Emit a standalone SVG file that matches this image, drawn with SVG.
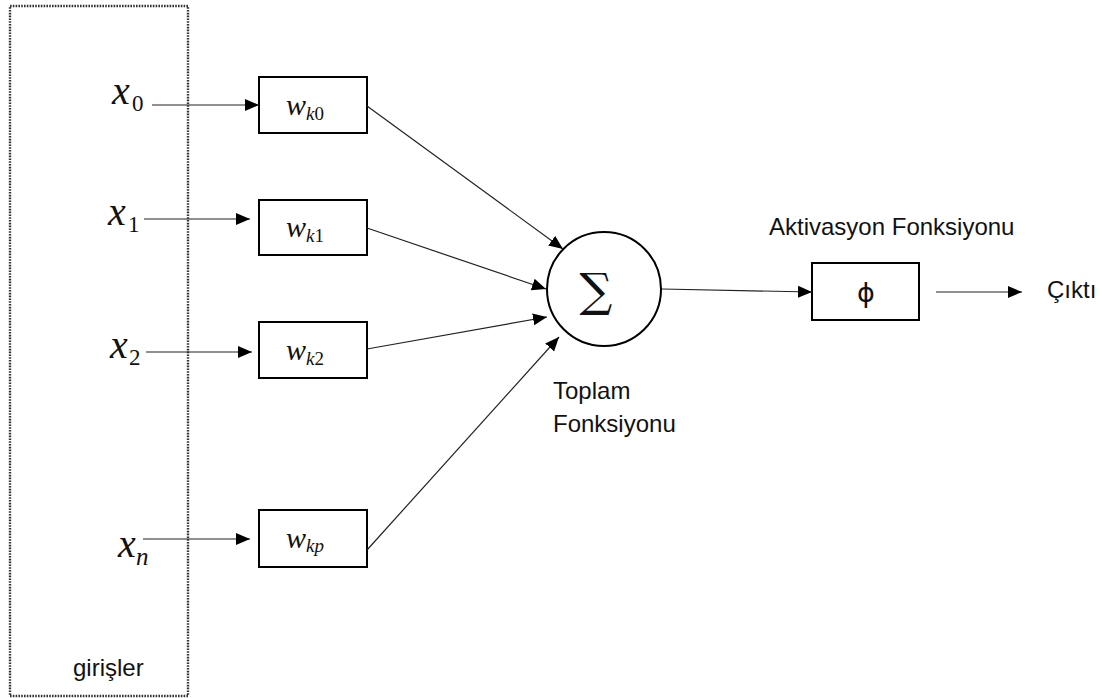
<svg xmlns="http://www.w3.org/2000/svg" width="1101" height="698" viewBox="0 0 1101 698">
  <style>
    .box { fill: #fff; stroke: #000; stroke-width: 2; }
    .edge { stroke: #222; stroke-width: 1.2; fill: none; marker-end: url(#arrow); }
    .lbl { font-family: "Liberation Sans", Arial, sans-serif; font-size: 24px; fill: #111; }
    .math { font-family: "Liberation Serif", "DejaVu Serif", serif; font-style: italic; fill: #111; }
    .up { font-style: normal; }
  </style>
  <defs>
    <marker id="arrow" markerUnits="userSpaceOnUse" markerWidth="15" markerHeight="13" refX="14" refY="6.5" orient="auto">
      <path d="M0,0.5 L14,6.5 L0,12.5 Z" fill="#000"/>
    </marker>
  </defs>

  <rect width="1101" height="698" fill="#fff"/>

  <!-- input group frame -->
  <g id="inputs-frame">
    <rect x="10" y="6" width="178" height="690" fill="none" stroke="#333" stroke-width="2.4" stroke-dasharray="1.6 1.2"/>
    <text class="lbl" x="73" y="676">girişler</text>
  </g>

  <!-- inputs -->
  <g id="x0">
    <text class="math" x="112" y="104" font-size="40">x</text>
    <text class="math up" x="132" y="111" font-size="23">0</text>
  </g>
  <g id="x1">
    <text class="math" x="108" y="225" font-size="40">x</text>
    <text class="math up" x="128" y="232" font-size="23">1</text>
  </g>
  <g id="x2">
    <text class="math" x="110" y="358" font-size="40">x</text>
    <text class="math up" x="129" y="365" font-size="23">2</text>
  </g>
  <g id="xn">
    <text class="math" x="118" y="557" font-size="40">x</text>
    <text class="math" x="136" y="565" font-size="25">n</text>
  </g>

  <!-- weights -->
  <g id="wk0">
    <rect class="box" x="259" y="77" width="108" height="56"/>
    <text class="math" x="286" y="115" font-size="30">w</text>
    <text class="math" x="306" y="120" font-size="19">k<tspan class="up">0</tspan></text>
  </g>
  <g id="wk1">
    <rect class="box" x="259" y="200" width="108" height="55"/>
    <text class="math" x="286" y="237" font-size="30">w</text>
    <text class="math" x="306" y="242" font-size="19">k<tspan class="up">1</tspan></text>
  </g>
  <g id="wk2">
    <rect class="box" x="259" y="322" width="108" height="56"/>
    <text class="math" x="286" y="360" font-size="30">w</text>
    <text class="math" x="306" y="365" font-size="19">k<tspan class="up">2</tspan></text>
  </g>
  <g id="wkp">
    <rect class="box" x="259" y="510" width="108" height="57"/>
    <text class="math" x="286" y="548" font-size="30">w</text>
    <text class="math" x="306" y="552" font-size="19">kp</text>
  </g>

  <!-- summation -->
  <g id="sum">
    <circle cx="604" cy="289" r="57" fill="#fff" stroke="#000" stroke-width="2"/>
    <text x="596" y="306" font-family="DejaVu Serif, serif" font-size="46" text-anchor="middle" fill="#111">∑</text>
    <text class="lbl" x="553" y="399">Toplam</text>
    <text class="lbl" x="553" y="432">Fonksiyonu</text>
  </g>

  <!-- activation -->
  <g id="activation">
    <text class="lbl" x="769" y="235">Aktivasyon Fonksiyonu</text>
    <rect class="box" x="812" y="263" width="107" height="57"/>
    <text x="866" y="302" font-family="DejaVu Sans, sans-serif" font-size="27" text-anchor="middle" fill="#111">ϕ</text>
  </g>

  <g id="output">
    <text class="lbl" x="1047" y="298">Çıktı</text>
  </g>

  <!-- connectors -->
  <g id="connectors">
    <line class="edge" x1="152" y1="105" x2="259" y2="105"/>
    <line class="edge" x1="144" y1="219" x2="250" y2="219"/>
    <line class="edge" x1="146" y1="352" x2="252" y2="352"/>
    <line class="edge" x1="143" y1="539" x2="250" y2="539"/>
    <line class="edge" x1="367" y1="106" x2="563" y2="249"/>
    <line class="edge" x1="367" y1="228" x2="546" y2="289"/>
    <line class="edge" x1="367" y1="349" x2="547" y2="317"/>
    <line class="edge" x1="367" y1="550" x2="559" y2="337"/>
    <line class="edge" x1="662" y1="289" x2="812" y2="292"/>
    <line class="edge" x1="936" y1="292" x2="1022" y2="292"/>
  </g>
</svg>
